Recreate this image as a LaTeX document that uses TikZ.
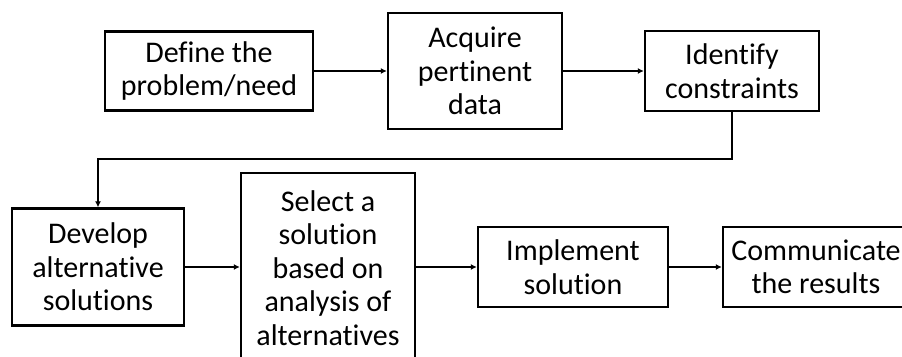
\documentclass[tikz,border=0pt]{standalone}
\usepackage{fontspec}
\setmainfont{Carlito}[Ligatures=CommonOff]
\usetikzlibrary{arrows.meta, positioning}

\tikzset{
    stepbox/.style={draw, line width=2.4pt, align=center, inner sep=0pt,
        font=\fontsize{30}{33.5}\selectfont},
    flow/.style={line width=1.8pt, -{Latex[length=6pt, width=6pt]}}
}

\begin{document}
\begin{tikzpicture}[x=1pt, y=-1pt]
    \useasboundingbox (0, 0) rectangle (902, 356);
    \clip (0, 0) rectangle (902, 356);

    % top row
    \node[stepbox, minimum width=208, minimum height=79] (define) at (209, 71) {Define the\\problem/need};
    \node[stepbox, minimum width=174, minimum height=116] (acquire) at (475, 71) {Acquire\\pertinent\\data};
    \node[stepbox, minimum width=174, minimum height=80] (constraints) at (732, 71) {Identify\\constraints};

    % bottom row
    \node[stepbox, minimum width=172, minimum height=117] (develop) at (98, 267) {Develop\\alternative\\solutions};
    \node[stepbox, minimum width=174, minimum height=190] (select) at (328, 268) {Select a\\solution\\based on\\analysis of\\alternatives};
    \node[stepbox, minimum width=190, minimum height=80] (implement) at (573, 267) {Implement\\solution};
    \node[stepbox, minimum width=186, minimum height=80] (communicate) at (816, 267) {Communicate\\the results};

    % connectors
    \coordinate (bend) at (0, 159);
    \draw[flow] (define) -- (acquire);
    \draw[flow] (acquire) -- (constraints);
    \draw[flow] (constraints.south) -- (constraints.south |- bend) -| (develop.north);
    \draw[flow] (develop) -- (develop -| select.west);
    \draw[flow] (select.east |- implement) -- (implement);
    \draw[flow] (implement) -- (communicate);

\end{tikzpicture}
\end{document}
